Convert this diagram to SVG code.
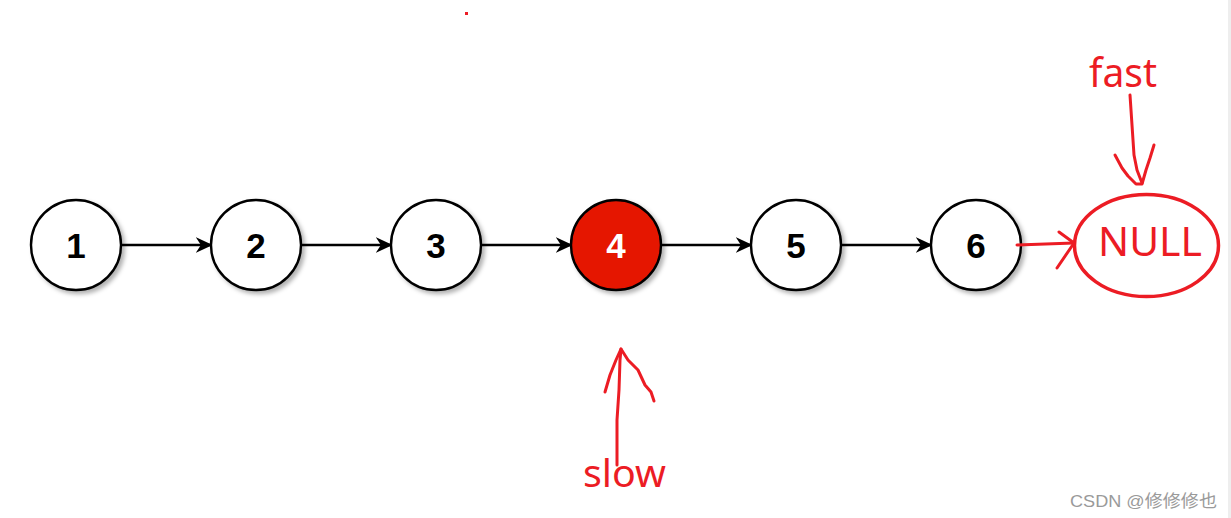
<svg xmlns="http://www.w3.org/2000/svg" width="1231" height="518" viewBox="0 0 1231 518">
<defs>
<filter id="sh" x="-30%" y="-30%" width="170%" height="170%">
<feDropShadow dx="3" dy="3" stdDeviation="2" flood-color="#000" flood-opacity="0.3"/>
</filter>
<marker id="ah" viewBox="0 0 10 10" refX="9" refY="5" markerWidth="7" markerHeight="6.5" markerUnits="strokeWidth" orient="auto" preserveAspectRatio="none">
<path d="M0,0 L10,5 L0,10 L3,5 Z" fill="#000"/>
</marker>
<style>
.node{fill:#fff;stroke:#000;stroke-width:2.4;filter:url(#sh)}
.lbl{font-family:"Liberation Sans",Arial,sans-serif;font-weight:bold;font-size:35px;text-anchor:middle;fill:#000}
.edge{stroke:#000;stroke-width:2.4;fill:none;marker-end:url(#ah)}
.red{stroke:#ec1c24;fill:none;stroke-width:3;stroke-linecap:round;stroke-linejoin:round}
.rtxt{font-family:"Noto Sans","Liberation Sans",sans-serif;fill:#ec1c24}
</style>
</defs>
<rect x="0" y="0" width="1231" height="518" fill="#fff"/>
<rect x="1228" y="0" width="3" height="518" fill="#eeeeee"/>
<rect x="465" y="12" width="3" height="3" fill="#ec1c24"/>
<g id="connectors">
<line class="edge" x1="121" y1="245" x2="211" y2="245"/>
<line class="edge" x1="301" y1="245" x2="391" y2="245"/>
<line class="edge" x1="481" y1="245" x2="571" y2="245"/>
<line class="edge" x1="661" y1="245" x2="751" y2="245"/>
<line class="edge" x1="841" y1="245" x2="931" y2="245"/>
</g>
<g id="node1"><circle class="node" cx="76" cy="245" r="45"/><text class="lbl" x="76" y="258">1</text></g>
<g id="node2"><circle class="node" cx="256" cy="245" r="45"/><text class="lbl" x="256" y="258">2</text></g>
<g id="node3"><circle class="node" cx="436" cy="245" r="45"/><text class="lbl" x="436" y="258">3</text></g>
<g id="node4"><circle class="node" cx="616" cy="245" r="45" style="fill:#e51400"/><text class="lbl" x="616" y="258" style="fill:#fff">4</text></g>
<g id="node5"><circle class="node" cx="796" cy="245" r="45"/><text class="lbl" x="796" y="258">5</text></g>
<g id="node6"><circle class="node" cx="976" cy="245" r="45"/><text class="lbl" x="976" y="258">6</text></g>
<g id="null">
<ellipse class="red" cx="1146.5" cy="245.5" rx="72" ry="51" style="stroke-width:3.5"/>
<text class="rtxt" x="1150" y="256" font-size="40" text-anchor="middle" textLength="104" lengthAdjust="spacingAndGlyphs">NULL</text>
</g>
<g id="annotations">
<path class="red" d="M1017,245 L1074,243"/>
<path class="red" d="M1059,232 L1074,243 L1057,268"/>
<path class="red" d="M1130,95 L1132,125 L1134,155 L1137,170 L1142,183"/>
<path class="red" d="M1115,155 L1122,168 L1128,176 L1136,184 L1142,184 L1146,170 L1150,158 L1154,145"/>
<text class="rtxt" x="1089" y="87" font-size="40" textLength="68" lengthAdjust="spacingAndGlyphs">fast</text>
<path class="red" d="M617,465 L617,420 L619,390 L620,360 L621,349"/>
<path class="red" d="M605,392 L610,375 L616,360 L621,349 L628,360 L638,370 L645,385 L651,392 L654,401"/>
<text class="rtxt" x="583" y="487" font-size="38" textLength="83" lengthAdjust="spacingAndGlyphs">slow</text>
</g>
<text x="1070" y="507" font-family="'Liberation Sans','Noto Sans CJK SC',sans-serif" font-size="17" fill="#9a9a9a" textLength="147" lengthAdjust="spacingAndGlyphs">CSDN @修修修也</text>
</svg>
